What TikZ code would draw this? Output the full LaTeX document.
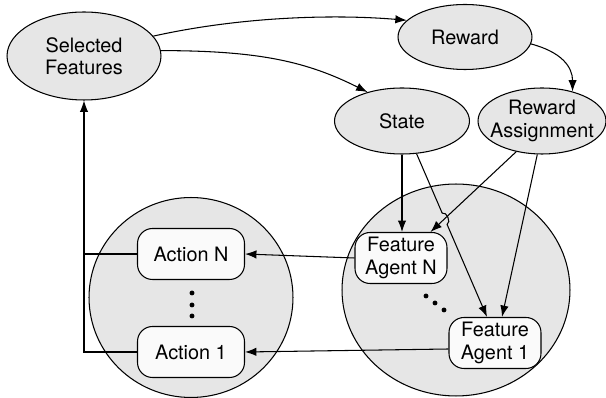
\documentclass[tikz,border=0pt]{standalone}
\usepackage{fontspec}
\setmainfont{TeX Gyre Heros}
\usetikzlibrary{shapes.geometric, arrows.meta, calc, intersections}
\definecolor{shade}{HTML}{E6E6E6}
\definecolor{paper}{HTML}{FAFAFA}
\newcommand{\labelfont}{\fontsize{11.3}{12.8}\selectfont}
\tikzstyle{oval} = [ellipse, draw=black, fill=shade, inner sep=0pt, align=center, font=\labelfont]
\tikzstyle{panel} = [ellipse, draw=black, fill=shade, inner sep=0pt]
\tikzstyle{block} = [rectangle, rounded corners=0.3cm, draw=black, fill=paper, inner sep=0pt, minimum height=1.02cm, align=center, font=\labelfont]
\tikzstyle{arrow} = [-{Latex[length=6.5pt,width=4.8pt]}]
\begin{document}
\begin{tikzpicture}[x=0.02cm, y=-0.02cm, line width=0.6pt]
		\useasboundingbox (0,0) rectangle (606,398);
		% the two groups
		\node (ActionPanel) [panel, minimum width=4.08cm, minimum height=4cm] at (191,297.5) {};
		\node (AgentPanel) [panel, minimum width=4.56cm, minimum height=4.24cm] at (456,290) {};
		% ovals
		\node (SelectedFeatures) [oval, minimum width=3.08cm, minimum height=1.76cm] at (84,56) {Selected\\Features};
		\node (Reward) [oval, minimum width=2.68cm, minimum height=1.3cm] at (465,37) {Reward};
		\node (State) [oval, minimum width=2.7cm, minimum height=1.32cm] at (402,121) {State};
		\node (RewardAssignment) [oval, inner xsep=-6pt, minimum width=2.56cm, minimum height=1.32cm] at (542,121) {Reward\\Assignment};
		% boxes
		\node (ActionN) [block, minimum width=2.14cm] at (191,254) {Action N};
		\node (Action1) [block, minimum width=2.14cm] at (191,352) {Action 1};
		\node (AgentN) [block, minimum width=1.84cm] at (401,258) {Feature\\Agent N};
		\node (Agent1) [block, minimum width=1.84cm] at (495,343) {Feature\\Agent 1};
		\foreach \y in {293,305,316} \fill (192,\y) circle (1.4pt);
		\foreach \x/\y in {426/296,435/303,444/310} \fill (\x,\y) circle (1.4pt);
		% connectors
		\draw [arrow] (SelectedFeatures.16) .. controls +(90,-20) and +(-70,-6) .. (Reward.164);
		\draw [arrow] (SelectedFeatures.4) .. controls +(100,0) and +(-60,-30) .. (State.140);
		\draw [arrow] (Reward.-6) .. controls +(30,8) and +(0,-25) .. (RewardAssignment.44);
		\draw [arrow] (State.south) -- (State.south |- AgentN.north);
		\coordinate (StateOut) at (State.-66);
		\coordinate (Agent1In) at ([xshift=-0.16cm]Agent1.north);
		\coordinate (AssignOut) at (RewardAssignment.-130);
		\coordinate (AgentNIn) at ([xshift=-0.34cm]AgentN.north east);
		\path [name path=StateLine] (StateOut) -- (Agent1In);
		\path [name path=AssignLine] (AssignOut) -- (AgentNIn);
		\path [name intersections={of=StateLine and AssignLine, by=Hop}];
		\draw [arrow] (AssignOut) -- (AgentNIn);
		\draw [arrow] (StateOut) -- ($(Hop)!3.5pt!(StateOut)$) to[bend left=90] ($(Hop)!3.5pt!(Agent1In)$) -- (Agent1In);
		\draw [arrow] (RewardAssignment.-98) -- ([xshift=0.14cm]Agent1.north);
		\draw [arrow] (AgentN.west) -- (ActionN.east);
		\draw [arrow] ([yshift=-0.12cm]Agent1.west) -- (Action1.east);
		\draw (ActionN.west) -- (ActionN.west -| SelectedFeatures.south);
		\draw [arrow] (Action1.west) -| (SelectedFeatures.south);
\end{tikzpicture}
\end{document}
